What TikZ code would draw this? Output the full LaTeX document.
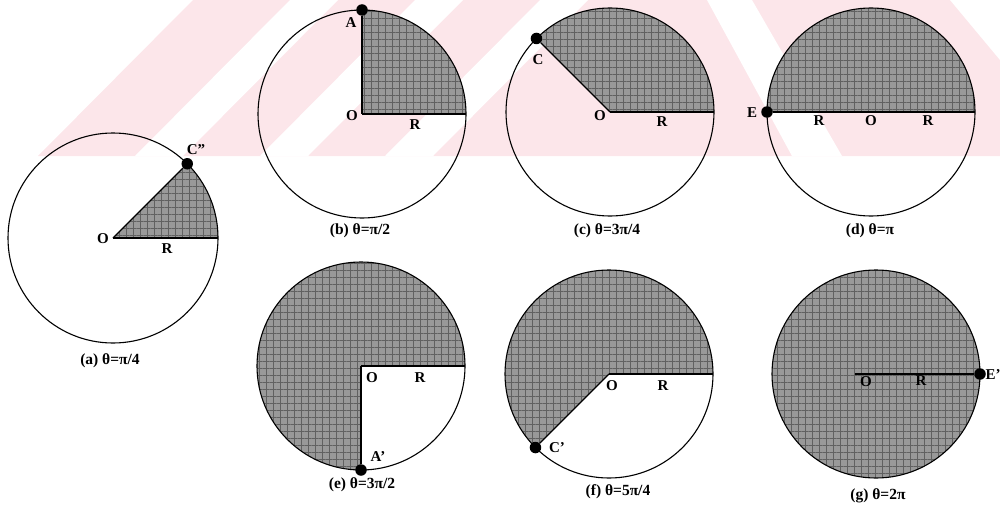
\documentclass[tikz,border=0pt]{standalone}
\usepackage{fontspec}
\setmainfont{Liberation Serif}
\usetikzlibrary{calc,patterns.meta}
\definecolor{wmpink}{HTML}{FCE6EA}
\begin{document}
\begin{tikzpicture}[x=1pt,y=-1pt,
  rim/.style={line width=1.1pt},
  shadefill/.style={fill=black!40,
    postaction={pattern={Lines[distance=7pt,line width=.5pt]},pattern color=black!62},
    postaction={pattern={Lines[angle=90,distance=7pt,line width=.5pt]},pattern color=black!62}},
  dotpt/.style={circle,fill=black,inner sep=0pt,minimum size=11.5pt},
  lbl/.style={font=\fontsize{15}{16}\selectfont\bfseries,inner sep=0pt},
  captext/.style={font=\fontsize{15.5}{17}\selectfont\bfseries,inner sep=0pt}]
\useasboundingbox (0,0) rectangle (1000,508);
% watermark
\begin{scope}
\clip (0,0) rectangle (1000,156);
\fill[wmpink] (193,0) -- (1000,0) -- (1000,156) -- (38,156) -- cycle;
\foreach \t in {290,415,540}
  \fill[white] (\t,0) -- ++(48,0) -- ++(-155,156) -- ++(-48,0) -- cycle;
\fill[white] (707,0) -- (752,0) -- (842,156) -- (792,156) -- cycle;
\fill[white] (950,0) -- (1000,0) -- (1000,60) -- cycle;
\end{scope}

% (a) theta = pi/4
\coordinate (Oa) at (113,238);
\path[shadefill] (Oa) -- ++(0:105pt) arc[start angle=0,end angle=45,radius=105pt] -- cycle;
\draw[rim] (Oa) circle[radius=105pt];
\node[dotpt] (Ca) at ($(Oa)+(45:105pt)$) {};
\draw[rim] (Oa) -- ($(Oa)+(0:105pt)$);
\draw[rim] (Oa) -- (Ca);
\node[lbl] (Oal) at (103,239) {O};
\node[lbl] (Ral) at (167,249) {R};
\node[lbl] (Cal) at (196,150) {C”};
\node[captext] (capa) at (110,361) {(a) θ=π/4};

% (b) theta = pi/2
\coordinate (Ob) at (362,114);
\path[shadefill] (Ob) -- ++(0:104pt) arc[start angle=0,end angle=90,radius=104pt] -- cycle;
\draw[rim] (Ob) circle[radius=104pt];
\draw[rim] (Ob) -- ($(Ob)+(0:104pt)$);
\node[dotpt] (Ab) at ($(Ob)+(90:104pt)$) {};
\draw[rim] (Ob) -- (Ab);
\node[lbl] (Abl) at (351,23) {A};
\node[lbl] (Obl) at (352,116) {O};
\node[lbl] (Rbl) at (415,125) {R};
\node[captext] (capb) at (360,231) {(b) θ=π/2};

% (c) theta = 3pi/4
\coordinate (Oc) at (610,112);
\path[shadefill] (Oc) -- ++(0:104pt) arc[start angle=0,end angle=135,radius=104pt] -- cycle;
\draw[rim] (Oc) circle[radius=104pt];
\draw[rim] (Oc) -- ($(Oc)+(0:104pt)$);
\node[dotpt] (Cc) at ($(Oc)+(135:104pt)$) {};
\draw[rim] (Oc) -- (Cc);
\node[lbl] (Ccl) at (538,60) {C};
\node[lbl] (Ocl) at (600,116) {O};
\node[lbl] (Rcl) at (662,122) {R};
\node[captext] (capc) at (607,231) {(c) θ=3π/4};

% (d) theta = pi
\coordinate (Od) at (871,112);
\path[shadefill] (Od) -- ++(0:104pt) arc[start angle=0,end angle=180,radius=104pt] -- cycle;
\draw[rim] (Od) circle[radius=104pt];
\node[dotpt] (Ed) at ($(Od)+(180:104pt)$) {};
\draw[rim] (Ed) -- ($(Od)+(0:104pt)$);
\node[lbl] (Edl) at (752,113) {E};
\node[lbl] (R1dl) at (819,121) {R};
\node[lbl] (Odl) at (871,121) {O};
\node[lbl] (R2dl) at (928,121) {R};
\node[captext] (capd) at (870,231) {(d) θ=π};

% (e) theta = 3pi/2
\coordinate (Oe) at (361,366);
\path[shadefill] (Oe) -- ++(0:104pt) arc[start angle=0,end angle=270,radius=104pt] -- cycle;
\draw[rim] (Oe) circle[radius=104pt];
\draw[rim] (Oe) -- ($(Oe)+(0:104pt)$);
\node[dotpt] (Ae) at ($(Oe)+(270:104pt)$) {};
\draw[rim] (Oe) -- (Ae);
\node[lbl] (Oel) at (372,378) {O};
\node[lbl] (Rel) at (420,378) {R};
\node[lbl] (Ael) at (378,457) {A’};
\node[captext] (cape) at (362,485) {(e) θ=3π/2};

% (f) theta = 5pi/4
\coordinate (Of) at (609,374);
\path[shadefill] (Of) -- ++(0:104pt) arc[start angle=0,end angle=225,radius=104pt] -- cycle;
\draw[rim] (Of) circle[radius=104pt];
\draw[rim] (Of) -- ($(Of)+(0:104pt)$);
\node[dotpt] (Cf) at ($(Of)+(225:104pt)$) {};
\draw[rim] (Of) -- (Cf);
\node[lbl] (Ofl) at (612,386) {O};
\node[lbl] (Rfl) at (663,386) {R};
\node[lbl] (Cfl) at (557,448) {C’};
\node[captext] (capf) at (618,492) {(f) θ=5π/4};

% (g) theta = 2pi
\coordinate (Og) at (876,374);
\path[shadefill] (Og) circle[radius=104pt];
\draw[rim] (Og) circle[radius=104pt];
\node[dotpt] (Eg) at ($(Og)+(0:104pt)$) {};
\coordinate (Gs) at (855,374);
\draw[rim] (Gs) -- (Eg);
\node[lbl] (Ogl) at (866,382) {O};
\node[lbl] (Rgl) at (921,381) {R};
\node[lbl] (Egl) at (993,375) {E’};
\node[captext] (capg) at (878,496) {(g) θ=2π};
\end{tikzpicture}
\end{document}
